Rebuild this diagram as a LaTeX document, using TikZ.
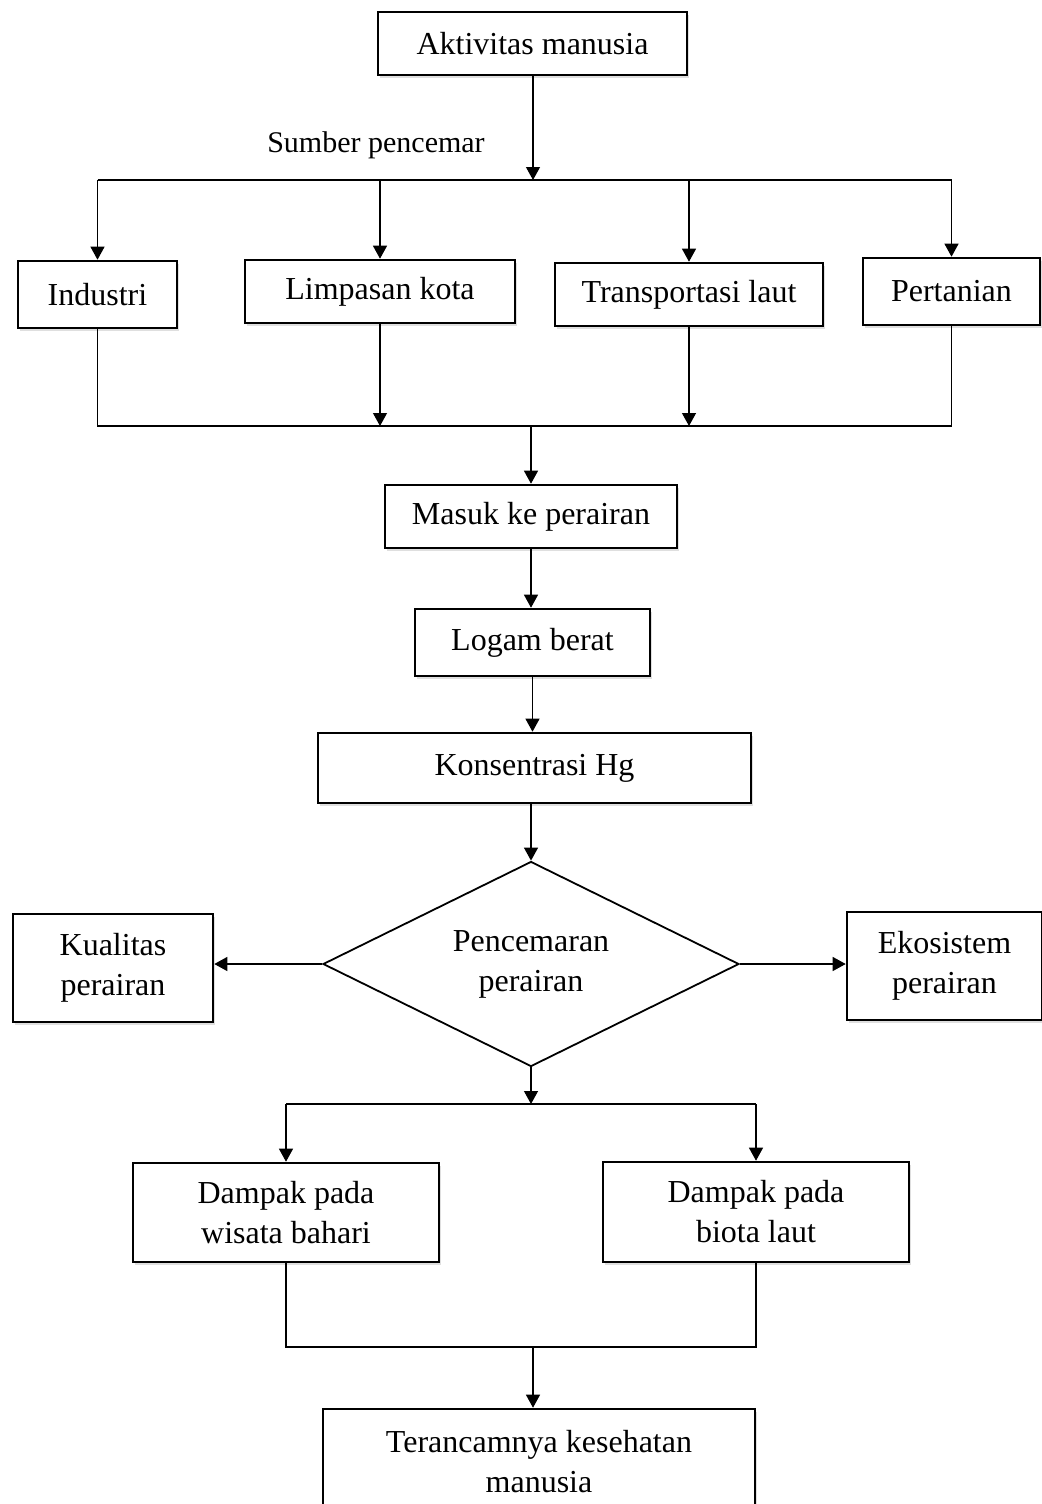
\documentclass[tikz,border=0pt]{standalone}
\usepackage{fontspec}
\setmainfont{Liberation Serif}
\usepackage{tikz}
\usetikzlibrary{arrows.meta,shapes.geometric,shadows}

\begin{document}
\begin{tikzpicture}[x=.5pt,y=-.5pt,
    box/.style={draw,line width=1.3pt,align=center,inner sep=0pt,fill=white,
      font=\fontsize{16pt}{20pt}\selectfont,
      drop shadow={shadow xshift=1.2pt,shadow yshift=-1.5pt,opacity=.25}},
    decision/.style={draw,diamond,aspect=2,line width=.9pt,inner sep=0pt,align=center,
      font=\fontsize{16pt}{20pt}\selectfont},
    link/.style={line width=.6pt},
    arr/.style={link,-{Triangle[length=6.5pt,width=7pt]}}]
    \useasboundingbox (0,0) rectangle (1042,1504);
    \clip (0,0) rectangle (1042,1504);
    \node[box,minimum width=154.5pt,minimum height=31.5pt] (akt) at (532.5,43.5) {Aktivitas manusia};
    \node[font=\fontsize{15pt}{18pt}\selectfont] (src) at (376,145) {Sumber pencemar};
    \node[box,minimum width=79.5pt,minimum height=33.5pt] (ind) at (97.5,294.5) {Industri};
    \node[box,minimum width=135pt,minimum height=31.5pt] (lim) at (380,291.5) {Limpasan kota};
    \node[box,minimum width=134pt,minimum height=31.5pt] (tra) at (689,294.5) {Transportasi laut};
    \node[box,minimum width=88.5pt,minimum height=33.5pt] (per) at (951.5,291.5) {Pertanian};
    \node[box,minimum width=146pt,minimum height=31.5pt] (mas) at (531,516.5) {Masuk ke perairan};
    \node[box,minimum width=117.5pt,minimum height=33.5pt] (log) at (532.5,642.5) {Logam berat};
    \node[box,minimum width=216.5pt,minimum height=35pt] (kon) at (534.5,768) {Konsentrasi Hg};
    \node[decision,minimum width=208pt,minimum height=102.5pt] (pen) at (531,964) {Pencemaran\\perairan};
    \node[box,minimum width=100pt,minimum height=54pt] (kua) at (113,968) {Kualitas\\perairan};
    \node[box,minimum width=97.5pt,minimum height=54pt] (eko) at (944.5,966) {Ekosistem\\perairan};
    \node[box,minimum width=153pt,minimum height=49.5pt] (wis) at (286,1212.5) {Dampak pada\\wisata bahari};
    \node[box,minimum width=153pt,minimum height=50pt] (bio) at (756,1212) {Dampak pada\\biota laut};
    \node[box,minimum width=216pt,minimum height=53pt] (ter) at (539,1462) {Terancamnya kesehatan\\manusia};
    \coordinate (splitA) at (533,180);
    \coordinate (joinA) at (531,426);
    \coordinate (splitB) at (531,1104);
    \coordinate (joinB) at (533,1347);
    % sumber pencemar
    \draw[arr] (akt.south -| splitA) -- (splitA);
    \draw[link] (ind |- splitA) -- (per |- splitA);
    \foreach \n in {ind,lim,tra,per}
      \draw[arr] (\n |- splitA) -- (\n.north);
    \draw[link] (ind.south) -- (ind |- joinA) -- (per |- joinA) -- (per.south);
    \draw[arr] (lim.south) -- (lim |- joinA);
    \draw[arr] (tra.south) -- (tra |- joinA);
    \draw[arr] (joinA) -- (joinA |- mas.north);
    \draw[arr] (mas.south) -- (mas.south |- log.north);
    \draw[arr] (log.south) -- (log.south |- kon.north);
    \draw[arr] (pen.north |- kon.south) -- (pen.north);
    % dampak
    \draw[arr] (pen.west) -- (pen.west -| kua.east);
    \draw[arr] (pen.east) -- (pen.east -| eko.west);
    \draw[arr] (pen.south) -- (splitB);
    \draw[link] (wis |- splitB) -- (bio |- splitB);
    \draw[arr] (wis |- splitB) -- (wis.north);
    \draw[arr] (bio |- splitB) -- (bio.north);
    \draw[link] (wis.south) -- (wis |- joinB) -- (bio |- joinB) -- (bio.south);
    \draw[arr] (joinB) -- (joinB |- ter.north);
  \end{tikzpicture}
\end{document}
